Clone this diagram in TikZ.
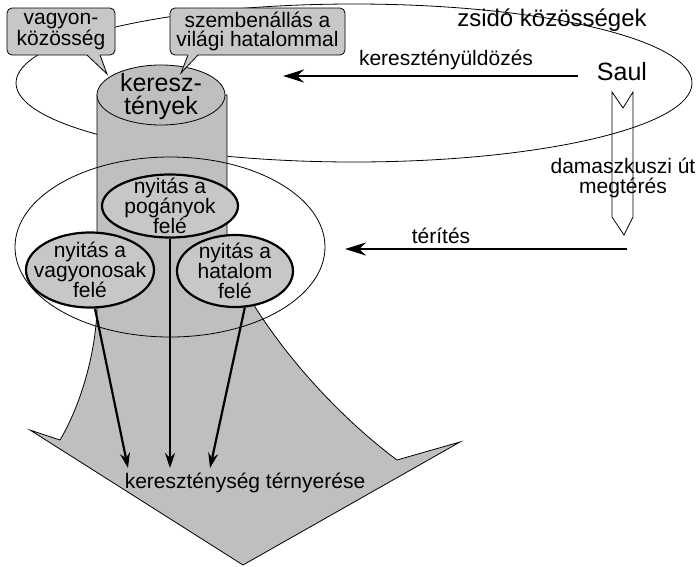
\documentclass[tikz,border=0pt]{standalone}
\usepackage{fontspec}
\setmainfont{Liberation Sans}
\usetikzlibrary{arrows.meta,shapes.geometric}

\definecolor{bodygray}{gray}{0.75}
\definecolor{boxgray}{gray}{0.78}

\tikzset{
  thinline/.style={line width=0.8pt},
  bubble/.style={draw, line width=0.8pt, fill=boxgray, rounded corners=5pt,
    inner sep=0pt, align=center, font=\fontsize{21}{19}\selectfont},
  idea/.style={ellipse, draw, line width=2.2pt, fill=boxgray, inner sep=-40pt,
    align=center, font=\fontsize{21}{20}\selectfont},
  txt/.style={align=center, inner sep=0pt, font=\fontsize{21}{20}\selectfont},
  bigarrow/.style={line width=2.6pt, -{Stealth[length=21pt,width=13pt]}},
  flowarrow/.style={line width=2.2pt, -{Stealth[length=15pt,width=10pt]}},
}

\begin{document}
\begin{tikzpicture}[x=1pt,y=-1pt]
\useasboundingbox (0,0) rectangle (697,566);

% jewish communities
\draw[thinline] (354,83) ellipse [x radius=338, y radius=79];

% the body: cylinder flaring into an arrow
\filldraw[thinline, fill=bodygray] (97,95) -- (97,310)
  .. controls (95,360) and (78,410) .. (60,440) -- (30,430) -- (243,565)
  -- (460,442) -- (397,460)
  .. controls (330,410) and (260,330) .. (227,255) -- (227,95) -- cycle;
\filldraw[thinline, fill=bodygray] (161,95) ellipse [x radius=64, y radius=30];

% opening area
\draw[thinline] (170,247) ellipse [x radius=155, y radius=90];

\node[idea, minimum width=136pt, minimum height=63pt] (pog) at (170,206)
  {nyitás a\\pogányok\\felé};
\node[idea, minimum width=128pt, minimum height=75pt] (vag) at (90,270)
  {nyitás a\\vagyonosak\\felé};
\node[idea, minimum width=116pt, minimum height=72pt] (hat) at (235,271)
  {nyitás a\\hatalom\\felé};

\node[txt] (ter) at (245,483) {kereszténység térnyerése};
\coordinate (t1) at (128,468);
\coordinate (t2) at (170,468);
\coordinate (t3) at (210,468);
\draw[flowarrow] ([xshift=5pt]vag.south) -- (t1);
\draw[flowarrow] (pog.south) -- (t2);
\draw[flowarrow] (hat.-75) -- (t3);

% speech bubbles
\node[bubble, minimum width=108pt, minimum height=47pt] (vk) at (61,31.5)
  {vagyon-\\közösség};
\node[bubble, minimum width=175pt, minimum height=47pt] (szv) at (257.5,31.5)
  {szembenállás a\\világi hatalommal};
\coordinate (vtip) at (107,74);
\coordinate (stip) at (181,73);
\fill[boxgray] (87,54) -- (vtip) -- (100,54) -- cycle;
\draw[thinline] (87,55) -- (vtip) -- (100,55);
\fill[boxgray] (188,54) -- (stip) -- (198,54) -- cycle;
\draw[thinline] (188,55) -- (stip) -- (198,55);

\node[align=center, inner sep=0pt, font=\fontsize{25}{23}\selectfont] (ker) at (161,97)
  {keresz-\\tények};

% Saul and his road
\node[font=\fontsize{24}{24}\selectfont, inner sep=0pt] (zsk) at (552,20) {zsidó közösségek};
\node[font=\fontsize{25}{25}\selectfont, inner sep=0pt] (saul) at (622,72) {Saul};
\node[txt] (uld) at (446,60) {keresztényüldözés};
\coordinate (uend) at (283,76);
\draw[bigarrow] ([shift={(-19,4)}]saul.west) -- (uend);

\draw[thinline] (612,92) -- (623,108) -- (633,92) -- (633,217) -- (624,235)
  -- (612,217) -- cycle;
\node[txt] (dam) at (623,178) {damaszkuszi út\\megtérés};

\node[txt] (tert) at (441,236) {térítés};
\coordinate (tstart) at (627,249);
\coordinate (tend) at (345,249);
\draw[bigarrow] (tstart) -- (tend);
\end{tikzpicture}
\end{document}
